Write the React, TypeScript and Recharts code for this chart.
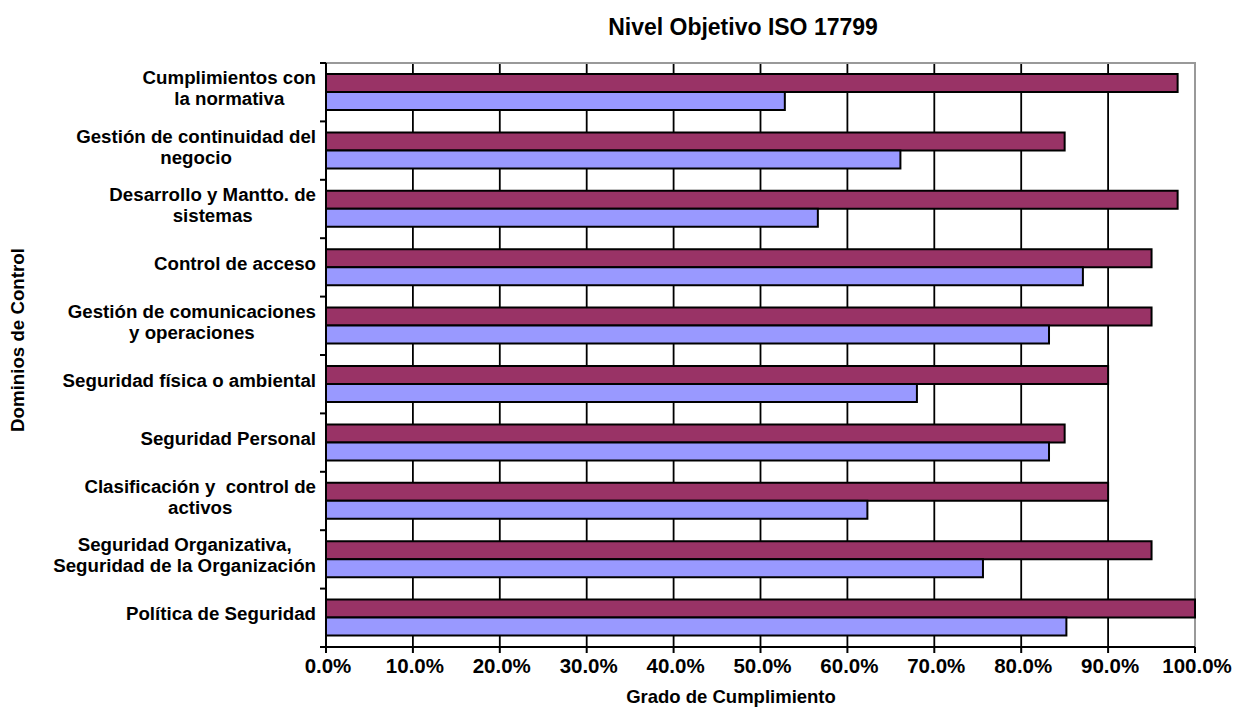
import { Bar, BarChart, CartesianGrid, ReferenceArea, XAxis, YAxis } from 'recharts';

// Dominios de control, top to bottom as in the chart ("\n" = line break in the label)
const categories = [
  'Cumplimientos con\nla normativa',
  'Gestión de continuidad del\nnegocio',
  'Desarrollo y Mantto. de\nsistemas',
  'Control de acceso',
  'Gestión de comunicaciones\ny operaciones',
  'Seguridad física o ambiental',
  'Seguridad Personal',
  'Clasificación y  control de\nactivos',
  'Seguridad Organizativa,\nSeguridad de la Organización',
  'Política de Seguridad',
];
const objetivo = [98, 85, 98, 95, 95, 90, 85, 90, 95, 100];
const actual = [52.8, 66.1, 56.6, 87.1, 83.2, 68, 83.2, 62.3, 75.6, 85.2];
const xTicks = [0, 10, 20, 30, 40, 50, 60, 70, 80, 90, 100];
const gridValues = [10, 20, 30, 40, 50, 60, 70, 80, 90];

const FONT = "'Liberation Sans', Arial, sans-serif";
const LABEL_PX = 18.7;
const LINE_H = 21;
const TICK_MARGIN = 10;

let ctx: CanvasRenderingContext2D | null = null;
function textWidth(s: string, px: number): number {
  if (!ctx) ctx = document.createElement('canvas').getContext('2d');
  if (!ctx) return s.length * px * 0.6;
  ctx.font = `bold ${px}px ${FONT}`;
  return ctx.measureText(s).width;
}

function CategoryTick(props: any) {
  const { x, y, payload, index, visibleTicksCount } = props;
  const half = payload?.offset || 29.2;
  const axisX = x + TICK_MARGIN;
  const lines = String(payload.value).split('\n');
  const maxW = Math.max(...lines.map((l) => textWidth(l, LABEL_PX)));
  const cx = x - maxW / 2;
  const first = y - 4 + 6.5 - ((lines.length - 1) * LINE_H) / 2;
  return (
    <g>
      <line x1={axisX - 6} x2={axisX} y1={y - half} y2={y - half} stroke="#000" strokeWidth={2} />
      {index === visibleTicksCount - 1 ? (
        <line x1={axisX - 6} x2={axisX} y1={y + half} y2={y + half} stroke="#000" strokeWidth={2} />
      ) : null}
      {lines.map((l, i) => (
        <text
          key={i}
          x={cx}
          y={first + i * LINE_H}
          textAnchor="middle"
          fontFamily={FONT}
          fontWeight="bold"
          fontSize={LABEL_PX}
          fill="#000"
          style={{ whiteSpace: 'pre' }}
        >
          {l}
        </text>
      ))}
    </g>
  );
}

function PercentTick(props: any) {
  const { x, y, payload } = props;
  return (
    <text x={x + 2} y={y + 18} textAnchor="middle" fontFamily={FONT} fontWeight="bold" fontSize={20.5} fill="#000">
      {`${Number(payload.value).toFixed(1)}%`}
    </text>
  );
}

export default function App() {
  const rows = categories.map((name, i) => ({ name, objetivo: objetivo[i], actual: actual[i] }));
  return (
    <div style={{ position: 'absolute', left: 0, top: 0, width: 1233, height: 709, background: '#fff', fontFamily: FONT }}>
      <div
        style={{
          position: 'absolute',
          top: 14,
          left: 543,
          width: 400,
          textAlign: 'center',
          fontWeight: 'bold',
          fontSize: 23,
        }}
      >
        Nivel Objetivo ISO 17799
      </div>
      <div
        style={{
          position: 'absolute',
          top: 330,
          left: 18,
          width: 300,
          marginLeft: -150,
          textAlign: 'center',
          fontWeight: 'bold',
          fontSize: 18.7,
          lineHeight: '20px',
          transform: 'rotate(-90deg)',
        }}
      >
        Dominios de Control
      </div>
      <div
        style={{
          position: 'absolute',
          top: 686,
          left: 581,
          width: 300,
          textAlign: 'center',
          fontWeight: 'bold',
          fontSize: 18.5,
        }}
      >
        Grado de Cumplimiento
      </div>
      <BarChart
        width={1233}
        height={709}
        data={rows}
        layout="vertical"
        margin={{ top: 63, right: 38, left: 0, bottom: 22 }}
        barGap={0}
        barCategoryGap="19%"
        style={{ position: 'absolute', left: 0, top: 0 }}
      >
        <CartesianGrid horizontal={false} verticalValues={gridValues} stroke="#000" strokeWidth={1.8} />
        <ReferenceArea x1={0} x2={100} fill="none" stroke="#999" strokeWidth={2} />
        <XAxis
          type="number"
          domain={[0, 100]}
          ticks={xTicks}
          interval={0}
          height={40}
          axisLine={{ stroke: '#000', strokeWidth: 2 }}
          tickLine={{ stroke: '#000', strokeWidth: 2 }}
          tickSize={6}
          tick={<PercentTick />}
        />
        <YAxis
          type="category"
          dataKey="name"
          width={326}
          interval={0}
          tickSize={0}
          tickMargin={TICK_MARGIN}
          tickLine={false}
          axisLine={{ stroke: '#000', strokeWidth: 2 }}
          tick={<CategoryTick />}
        />
        <Bar dataKey="objetivo" fill="#993366" stroke="#000" strokeWidth={2} barSize={18} isAnimationActive={false} />
        <Bar dataKey="actual" fill="#9999FF" stroke="#000" strokeWidth={2} barSize={18} isAnimationActive={false} />
      </BarChart>
    </div>
  );
}
